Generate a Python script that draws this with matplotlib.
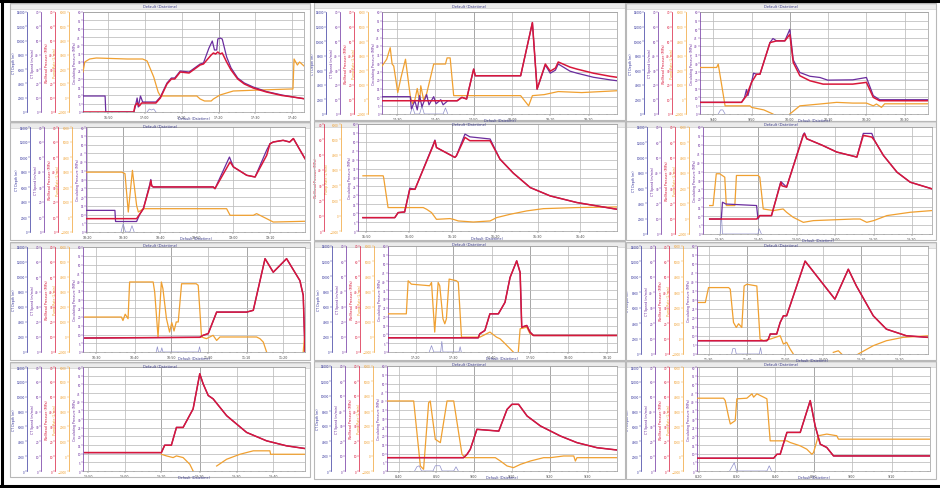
import numpy as np
import matplotlib
matplotlib.use("Agg")
import matplotlib.pyplot as plt
from matplotlib.patches import Rectangle
from matplotlib.lines import Line2D

# ---------------- data (x: % of time window, y: % of axis height) ----------------
RED_1 = [(0,0),(23,0),(23.5,6),(24.5,9),(25.5,6),(26.5,9),(33,9),(35,14),(38,28),(40,33),(41.5,33),(44,40),(48,39),(53,47),(54.5,48),(58,57),(59,59),(60,58),(61,60),(62,58),(63,59),(65,50),(67,42),(70,33),(73,28),(77,24),(83,20),(90,16.5),(95,15),(100,13.3)]
PUR_1 = [(0,16),(10,16),(10.3,0),(23,0),(23.5,4),(24.5,14),(25,5),(26,16),(27,10),(33,10),(35,15),(38,29),(40,34),(41.5,34),(44,41),(48,40),(53,48),(54.5,49),(57,64),(58.5,71),(59.5,62),(60.5,62),(61,73),(62,74),(63,73),(65,55),(67,44),(70,34),(73,29),(77,25),(83,20.5),(90,17),(95,15),(100,13.3)]
ORA_1 = [(0,40),(0.8,50),(3,53),(6,54),(20,53),(27,53),(29,51),(32,35),(34,20),(35,16),(45,16),(51.5,16),(53,13),(55,11),(58,11),(59,13),(62,17),(68,21),(80,22),(94,23),(95,23),(95.5,53),(97,47),(98,50),(100,46)]
LOW_1 = [(29,0),(30,3),(31,2),(32,3),(33,0)]

RED_2 = [(0,13),(32,13),(34,16.3),(36,14.7),(39,44),(39.7,37.5),(59,37.5),(64,89.6),(66,24.4),(69.5,49),(71.6,42),(73.8,45),(75,51),(80,46),(83,44),(90,40),(97,37),(100,36)]
PUR_2 = [(0,17),(12,17),(12.5,5),(14,13),(15,4),(16,18),(17,7),(19,19),(20,9),(22,17),(23,10),(25,14),(26,9),(28,13),(32,13),(34,16.3),(36,14.7),(39,44),(39.7,37.5),(59,37.5),(64,89.6),(66,24.4),(69.5,48),(71.6,40),(73.8,43),(75,49),(80,42),(83,40),(90,36),(97,33.5),(100,32.6)]
ORA_2 = [(0,47),(2,53.7),(3.5,65),(4.3,49),(5,47),(6.7,21),(8,35),(10,53.7),(12,18),(13,10),(14,14),(15,25),(16,12),(16.5,27.7),(17.7,14),(19,20),(22,49),(27,49),(27.7,55),(29,55),(30.5,18),(59,18),(62.4,8),(64,18),(69,19),(75,22),(85,21),(100,22.8)]
LOW_2 = [(12,0),(13,7),(14,0),(16,0),(17,8),(18,0),(26,0),(27,6),(28,0)]

RED_3 = [(0,11.4),(18.2,11.4),(20.4,18),(22.6,31),(24.8,39),(26.3,39),(30.7,70),(33.6,71.7),(37.2,71.7),(39.4,78),(40.9,50.5),(43.8,37.5),(48.2,32.6),(54,29.3),(67,29.3),(73,31),(76,16.3),(78.8,13),(100,13)]
PUR_3 = [(0,11.4),(18.2,11.4),(19.5,16),(20.4,24),(21,18),(22.6,31),(23.5,40),(24.8,39),(26.3,39),(30.7,70),(32,74),(33.6,71.7),(37.2,71.7),(39.4,83),(40.9,53),(43.8,40.7),(48.2,37),(52.6,35.8),(56,33.2),(67,33.5),(73,35.8),(76,18),(78.8,14),(100,14)]
ORA_3 = [(0,45.6),(7.3,45.6),(8,48.9),(11,8),(15,8),(21.9,8),(22.6,6.5),(28,4),(32,0),None,(39.4,0),(43.8,8),(52.6,9.8),(59.9,11.4),(67,10.7),(73,10.7),(76,8),(77.4,9.8),(79.6,6.5),(81,10),(100,10)]
LOW_3 = [(8,0),(9,4),(10,4),(11,0)]

RED_4 = [(0,12.7),(23.1,12.7),(24.7,17.5),(26.2,22.2),(29.2,44.4),(29.6,49),(30,44),(30.7,42.9),(58.1,42.9),(58.9,41.3),(65.8,66.7),(67.3,62),(73.4,54),(77.2,52.4),(82.5,73),(84,84),(85.5,85.7),(90,87.3),(93,85.7),(94.7,89),(100,69.8)]
PUR_4 = [(0,20.6),(13.2,20.6),(13.5,10),(23.1,10),(24.7,17.5),(26.2,22.2),(29.2,46),(29.6,50),(30,44),(30.7,42.9),(58.1,42.9),(58.9,41.3),(65.5,71.4),(67.3,62),(73.4,54),(77.2,52.4),(82.5,78),(84,84),(85.5,85.7),(90,87.3),(93,85.7),(94.7,89),(100,69.8)]
ORA_4 = [(0,57),(16.3,57),(17.8,55.6),(19.3,19),(21.2,58.7),(23.1,25.4),(23.9,19),(26.2,22.2),(27.7,22.2),(64.2,22.2),(65.8,15.9),(76.4,15.9),(77.9,17.5),(82.5,12.7),(85.5,9.5),(100,10.2)]
LOW_4 = [(16,0),(17,8),(18,0),(20,0),(21,6),(22,0)]

RED_5 = [(1.9,12.5),(14.2,12.5),(15.5,17.2),(18,17.8),(20,39),(22,39),(29,79.7),(29.7,84.4),(30.3,78),(37.4,68.8),(38,70.3),(41.3,87.5),(43.2,84.4),(51,84.4),(54.8,67.2),(60,54),(66.5,40.6),(74.2,32.8),(84.5,26.6),(100,20.3)]
PUR_5 = [(1.9,12.5),(14.2,12.5),(15.5,17.2),(18,17.8),(20,40),(22,39),(29,80.5),(29.7,85),(30.3,78),(37.4,68.8),(38,70.3),(41.3,90.6),(43.2,88),(51,86),(54.8,67.2),(60,54),(66.5,40.6),(74.2,32.8),(84.5,26.6),(100,20.3)]
ORA_5 = [(1.9,51.6),(9.7,51.6),(9.9,50),(11.6,21.9),(25.2,21.9),(26.5,20.3),(28.4,17.2),(30.3,10.9),(35.5,11.6),(36.8,10.9),(38.7,9.4),(44.5,8.4),(51,9.4),(53.5,12.5),(58.7,15.6),(65.2,18.8),(71.6,20.9),(84.5,21.9),(100,22.5)]
LOW_5 = []

RED_6 = [(2.9,14),(23.4,14),(24.8,17.2),(29.9,17.2),(33.6,45.3),(34,48.4),(34.5,45),(36.5,43.8),(43.8,92.2),(44.3,93.8),(45.3,89),(52,83),(58.4,76.6),(67.2,71.9),(70,92.2),(73.7,90.6),(75,87),(78.8,73.4),(84.7,57.8),(90.5,48.4),(100,42.2)]
PUR_6 = [(2.9,14),(8,14),(8.5,29.7),(10,28),(23.4,26.6),(24,14),(24.8,17.2),(29.9,17.2),(33.6,46),(34,49),(36.5,43.8),(43.8,93),(44.3,94.5),(45.3,89),(52,83),(58.4,76.6),(67.2,71.9),(70,94),(73.7,94),(75,87),(78.8,73.4),(84.7,57.8),(90.5,48.4),(100,42.2)]
ORA_6 = [(2.9,26.6),(4.4,26.6),(5.8,56.3),(7.3,56.3),(9.5,53.1),(10.2,26.6),(13.9,26.6),(14.6,54.7),(24.1,54.7),(24.8,53.1),(26.3,23.4),(30.7,21.9),(35,23.4),(36.5,20.3),(39.4,15.6),(43.8,10.9),(48.2,12.5),(65.7,14),(68.6,14),(71.5,10.9),(74.5,12.5),(80.3,17.2),(90.5,20.3),(100,21.9)]
LOW_6 = [(7.5,0),(8,20),(8.5,0),(24,0),(24.5,5),(25.5,0)]

RED_7 = [(0.8,13.3),(52.6,14),(54.1,15.9),(56.4,17.5),(60.2,38),(73.7,38),(76.7,39.7),(82,88.9),(85.7,76),(91.7,88.9),(97.7,68),(99.2,54),(100,0)]
PUR_7 = RED_7
ORA_7 = [(0.8,33.3),(17.3,33.3),(18,30),(19,36),(20.3,31.7),(21,66.7),(31.6,66.7),(32.3,57),(33.8,14.3),(35.3,66.7),(36,60.3),(37.6,31.7),(39,19),(40,28),(41,20),(42,28.6),(42.9,28.6),(44.4,65),(51,65),(51.9,63.5),(53.4,14.3),(55.6,12.7),(58.6,15.9),(60.2,11),(61.7,14.3),(78.2,14.3),(79.7,12.7),(81.2,9.5),(82.7,0),None,(99.2,0),(100,19)]
LOW_7 = [(33,0),(33.5,5),(34,0),(35,0),(35.5,4),(36,0),(52,0),(52.5,5),(53,0)]

RED_8 = [(0,13.4),(39.4,13.4),(40.1,17.2),(42.3,20.3),(44.5,36),(48.2,36),(51.1,46.9),(53.3,70.3),(56.2,86),(57.7,75),(58.4,23.4),(60.6,25),(62,18.8),(63.5,15.6),(100,15.6)]
PUR_8 = RED_8
ORA_8 = [(0,36),(8,36),(8.8,67.2),(10.2,64),(18.2,62.5),(19,65.6),(20.4,18.8),(21.9,65.6),(22.6,62.5),(24,31.3),(24.8,26.6),(25.5,31.3),(26.7,68.8),(29.9,67.2),(30.7,65.6),(32.1,14),(40.1,14),(41.6,15.6),(44.5,18.8),(47.4,14),(48.9,12.5),(50.4,9.4),(53.3,3.1),(54.7,0),None,(56.9,0),(57.7,21.9),(60.6,23.4),(61.3,20.3),(62,17.2),(63.5,15.6),(100,15.6)]
LOW_8 = [(18,0),(19,6),(20,0),(23,0),(23.5,10),(24,0),(31,0),(31.5,5),(32,0)]

RED_9 = [(0.7,12.3),(30.2,12.3),(30.9,13.8),(31.7,18.5),(34.5,18.5),(36,29.2),(37.4,35.4),(38.8,35.4),(46.8,86),(59.7,50.8),(65.5,78.5),(69,63),(69.8,60),(76.3,35.4),(82,23),(90.6,16.9),(100,15.4)]
PUR_9 = RED_9
ORA_9 = [(0.7,47.7),(3.6,47.7),(5,61.5),(13.7,61.5),(14.4,60),(15.8,29.2),(17,24.6),(18,28),(19.4,24.6),(20.4,63),(21.6,64.6),(25.9,63),(27.3,13.8),(28.8,12.3),(32,14),(36,16.9),(37.4,9.2),(38.8,10.8),(40.3,4.6),(41.7,0),None,(59,1.5),(61.2,3),(62.6,0),None,(69.8,0),(76.3,7.7),(82,12.3),(89.2,15.4),(100,16.9)]
LOW_9 = [(15,0),(15.5,5),(16.5,5),(17,0),(27,0),(27.5,6),(28,0)]

RED_10 = [(0.8,17.7),(35.3,17.7),(36.8,24.8),(39.8,24.8),(42.1,41.9),(45.1,41.9),(49.6,59.7),(52.6,93.5),(54.1,83.9),(56.4,72.6),(58.6,69.4),(64.7,53.2),(73.7,37.1),(82.7,29),(91.7,24.2),(100,21.6)]
PUR_10 = RED_10
ORA_10 = [(35.3,16.1),(37.6,14.5),(40.6,12.9),(42.1,14.5),(45.1,12.9),(48.1,6.5),(49.6,0),None,(60.2,4.8),(64.7,11.3),(70.7,16.1),(76.7,19.4),(84.2,19.4),(84.5,16.1),(100,16.1)]
LOW_10 = []

RED_11 = [(0,12.7),(33.3,12.7),(34.8,15.9),(36.2,20.6),(39.1,39.7),(48.6,38),(52.2,58.7),(54.3,63.5),(57.2,63.5),(60.9,52.4),(66.7,42.9),(75.4,33.3),(82.6,27),(91.3,22.2),(100,20)]
PUR_11 = RED_11
ORA_11 = [(0,66.7),(11.6,66.7),(14.5,4.8),(15.9,1.6),(18.1,65),(18.8,66.7),(21,30.2),(23.2,27),(26.1,66.7),(29,66.7),(32.6,15.9),(34,12.7),(47.1,12.7),(49.3,9.5),(52.2,4.8),(55,3.2),(58,6.3),(62.3,9.5),(68.1,12.7),(71,12.7),(76.8,14.3),(81.2,14.3),(81.9,9.5),(82.6,12.7),(100,12.7)]
LOW_11 = [(12,0),(13,4),(14,5),(15,0),(20,0),(21,5),(23,5),(24,0),(29,0),(30,4),(31,0)]

RED_12 = [(0,12.3),(32.9,12.3),(34.3,16.1),(35.7,16.1),(38.6,37.1),(44.3,37.1),(48.6,67.7),(50.7,43.5),(52.9,25.8),(55.7,22.6),(58.6,14.5),(100,14.5)]
PUR_12 = RED_12
ORA_12 = [(0,70),(11.4,70),(12.1,67.7),(13.6,51.6),(14.3,45.2),(16.4,48.4),(17.1,69.4),(21.4,70),(23.6,74.2),(24.3,71),(25.7,74.2),(28.6,71),(30,69.4),(31.4,29),(38.6,29),(40,27.4),(44.3,24.2),(47.1,21),(49.3,16.1),(50,17.7),(52.1,33.9),(55.7,35.5),(60,33.9),(60.7,30.6),(100,30.6)]
LOW_12 = [(14,0),(16,8),(17,0),(30,0),(31,5),(32,0)]

# x tick positions (% of window) and time labels
XT_1 = [11.4, 28, 44.7, 61.4, 78, 94.7]
XT_2 = [6.4, 22.7, 39, 55.3, 71.6, 87.9]
XT_3 = [5.8, 22.6, 39.4, 56.2, 73, 89.8]
XT_4 = [0.5, 17, 33.8, 50.5, 67.3, 84]
XT_5 = [3.2, 19.7, 36.4, 52.9, 69.4, 85.8]
XT_6 = [7.3, 24.1, 40.9, 57.7, 74.5, 91.2]
XT_7 = [6, 23.3, 39.8, 56.4, 73.7, 90.2]
XT_8 = [12.1, 28.5, 45.3, 62, 78.8, 95.6]
XT_9 = [5, 21.6, 38.1, 54.7, 71.2, 87.8]
XT_10 = [2.3, 18.8, 35.3, 52.6, 69.2, 85.7]
XT_11 = [5, 21.4, 37.7, 54.3, 70.7, 87.2]
XT_12 = [0.7, 17.1, 33.6, 50, 66.4, 83.6]
XL_1 = ["16:50", "17:00", "17:10", "17:20", "17:30", "17:40"]
XL_2 = ["17:30", "17:40", "17:50", "18:00", "18:10", "18:20"]
XL_3 = ["9:40", "9:50", "10:00", "10:10", "10:20", "10:30"]
XL_4 = ["18:20", "18:30", "18:40", "18:50", "19:00", "19:10"]
XL_5 = ["15:50", "16:00", "16:10", "16:20", "16:30", "16:40"]
XL_6 = ["12:30", "12:40", "12:50", "13:00", "13:10", "13:20"]
XL_7 = ["10:30", "10:40", "10:50", "11:00", "11:10", "11:20"]
XL_8 = ["17:20", "17:30", "17:40", "17:50", "18:00", "18:10"]
XL_9 = ["11:30", "11:40", "11:50", "12:00", "12:10", "12:20"]
XL_10 = ["12:50", "13:00", "13:10", "13:20", "13:30", "13:40"]
XL_11 = ["8:40", "8:50", "9:00", "9:10", "9:20", "9:30"]
XL_12 = ["8:20", "8:30", "8:40", "8:50", "9:00", "9:10"]

# darker event lines (x %)
EV_1 = [61.4]
EV_2 = [39]
EV_3 = [39.4]
EV_4 = [17]
EV_5 = [36.4, 52.9]
EV_6 = [24.1]
EV_7 = [39.8, 73.7]
EV_8 = [28.5, 62]
EV_9 = [21.6, 71.2]
EV_10 = [35.3, 52.6]
EV_11 = [37.7, 70.7]
EV_12 = [17.1, 50]

# left axis scales
MAIN_TICKS = ["0", "5", "10", "15", "20", "25", "30", "35", "40", "45", "50", "55", "60"]
ORANGE_TICKS = [-1000, 0, 1000, 2000, 3000, 4000, 5000, 6000]
RED_TICKS = [0, 10, 20, 30, 40, 50, 60, 70]
PURPLE_TICKS = [0, 10, 20, 30, 40, 50, 60, 70]
BLUE_TICKS = [0, 2000, 4000, 6000, 8000, 10000, 12000, 14000]

C_RED = "#d8173a"
C_PUR = "#6b2d9e"
C_ORA = "#f0a030"
C_LOW = "#8f8fca"
C_BLUE = "#34349c"

# ---------------- layout (pixels) ----------------
W, H = 940, 489
PLOTS = [(83, 13, 304, 113), (382, 13, 617, 115), (700, 13, 928, 115),
         (86, 128, 305, 233), (358, 125, 617, 232), (703, 128, 932, 235),
         (83, 248, 305, 353), (388, 247, 617, 353), (697, 247, 928, 355),
         (83, 368, 305, 472), (387, 367, 617, 472), (697, 368, 930, 472)]
FRAMES = [(10, 4, 310, 122), (314, 3, 625, 121), (626, 4, 936, 122),
          (10, 123, 310, 241), (314, 122, 625, 241), (626, 122, 936, 241),
          (10, 243, 310, 361), (314, 242, 625, 361), (626, 243, 936, 361),
          (10, 363, 310, 478), (314, 362, 625, 480), (626, 362, 936, 480)]

PANELS = [
    (RED_1, PUR_1, ORA_1, LOW_1, XT_1, XL_1, EV_1),
    (RED_2, PUR_2, ORA_2, LOW_2, XT_2, XL_2, EV_2),
    (RED_3, PUR_3, ORA_3, LOW_3, XT_3, XL_3, EV_3),
    (RED_4, PUR_4, ORA_4, LOW_4, XT_4, XL_4, EV_4),
    (RED_5, PUR_5, ORA_5, LOW_5, XT_5, XL_5, EV_5),
    (RED_6, PUR_6, ORA_6, LOW_6, XT_6, XL_6, EV_6),
    (RED_7, PUR_7, ORA_7, LOW_7, XT_7, XL_7, EV_7),
    (RED_8, PUR_8, ORA_8, LOW_8, XT_8, XL_8, EV_8),
    (RED_9, PUR_9, ORA_9, LOW_9, XT_9, XL_9, EV_9),
    (RED_10, PUR_10, ORA_10, LOW_10, XT_10, XL_10, EV_10),
    (RED_11, PUR_11, ORA_11, LOW_11, XT_11, XL_11, EV_11),
    (RED_12, PUR_12, ORA_12, LOW_12, XT_12, XL_12, EV_12),
]


def xy(pts):
    xs = np.array([np.nan if p is None else p[0] for p in pts], dtype=float)
    ys = np.array([np.nan if p is None else p[1] for p in pts], dtype=float)
    return xs, ys


def rect(x0, y0, x1, y1):
    return [x0 / W, 1 - y1 / H, (x1 - x0) / W, (y1 - y0) / H]


def left_axis(ax, off_px, color, ticks, label):
    t = ax.twinx()
    t.set_ylim(ticks[0], ticks[-1])
    for s in ("right", "top", "bottom"):
        t.spines[s].set_visible(False)
    sp = t.spines["left"]
    sp.set_visible(True)
    sp.set_position(("outward", off_px * 72 / 100))
    sp.set_color(color)
    sp.set_linewidth(0.5)
    t.yaxis.set_ticks_position("left")
    t.yaxis.set_label_position("left")
    t.set_yticks(ticks)
    t.tick_params(axis="y", labelsize=2.0, length=1.2, width=0.3, pad=0.4, colors=color)
    t.set_ylabel(label, fontsize=2.3, color=color, labelpad=0.3)
    return t


fig = plt.figure(figsize=(W / 100, H / 100), dpi=100)
fig.patch.set_facecolor("white")

for i, (panel, prect, frect) in enumerate(zip(PANELS, PLOTS, FRAMES)):
    red, pur, ora, low, xt, xl, ev = panel
    fx0, fy0, fx1, fy1 = frect
    fig.add_artist(Rectangle((fx0 / W, 1 - fy1 / H), (fx1 - fx0) / W, (fy1 - fy0) / H,
                             transform=fig.transFigure, fill=False, ec="#b8b8b8", lw=0.8))
    fig.add_artist(Rectangle((fx0 / W, 1 - (fy0 + 6) / H), (fx1 - fx0) / W, 5 / H,
                             transform=fig.transFigure, fc="#ebebeb", ec="#c8c8c8", lw=0.4, zorder=-1))
    px0, py0, px1, py1 = prect
    ax = fig.add_axes(rect(*prect))
    ax.set_xlim(0, 100)
    ax.set_ylim(0, 100)
    ax.set_yticks(np.linspace(0, 100, 13))
    ax.set_yticklabels(MAIN_TICKS)
    ax.set_xticks(xt)
    ax.set_xticklabels(xl)
    ax.set_xticks(np.arange(0, 101, 3.3), minor=True)
    ax.tick_params(axis="y", labelsize=2.0, length=1.2, width=0.3, pad=0.4, colors=C_PUR)
    ax.tick_params(axis="x", labelsize=2.3, length=1.2, width=0.3, pad=0.8, colors="#444444")
    ax.tick_params(axis="x", which="minor", length=0.8, width=0.3, colors="#666666")
    ax.grid(True, color="#bcbcbc", lw=0.55)
    for s in ax.spines.values():
        s.set_color("#9a9a9a")
        s.set_linewidth(0.5)
    ax.spines["left"].set_color(C_PUR)
    ax.set_ylabel("Circulating Pressure (MPa)", fontsize=2.3, color=C_PUR, labelpad=0.3)
    for e in ev:
        ax.axvline(e, color="#4a4a4a", lw=0.6, zorder=1)

    if i == 4:
        left_axis(ax, 17, C_ORA, ORANGE_TICKS, "Pump Rate (L/min)")
        left_axis(ax, 34, C_RED, RED_TICKS, "Wellhead Pressure (MPa)")
    else:
        left_axis(ax, 14, C_ORA, ORANGE_TICKS, "Pump Rate (L/min)")
        left_axis(ax, 28, C_RED, RED_TICKS, "Wellhead Pressure (MPa)")
        left_axis(ax, 42, C_PUR, PURPLE_TICKS, "CT Speed (m/min)")
        left_axis(ax, 56, C_BLUE, BLUE_TICKS, "CT Depth (m)")

    if low:
        lx, ly = xy(low)
        ax.plot(lx, ly, color=C_LOW, lw=0.5, zorder=2)
    ox, oy = xy(ora)
    ax.plot(ox, oy, color=C_ORA, lw=0.9, zorder=3)
    ux, uy = xy(pur)
    ax.plot(ux, uy, color=C_PUR, lw=0.9, zorder=4)
    rx, ry = xy(red)
    ax.plot(rx, ry, color=C_RED, lw=1.1, zorder=5)

    cx = (fx0 + fx1) / 2 / W
    fig.text(cx, 1 - (fy0 + 3.5) / H, "Default (Datetime)", fontsize=2.6,
             color="#3a3a8a", ha="center", va="center")
    fig.text((px0 + px1) / 2 / W, 1 - (py1 + 6.5) / H, "Default (Datetime)", fontsize=2.4,
             color="#3a3a8a", ha="center", va="center")

# outer black border (top, left, bottom)
for xs, ys in (([0.5 / W, 939 / W], [1 - 1.5 / H, 1 - 1.5 / H]),
               ([1.5 / W, 1.5 / W], [1 - 1 / H, 1 - 487 / H]),
               ([0.5 / W, 939 / W], [1 - 486.5 / H, 1 - 486.5 / H])):
    fig.add_artist(Line2D(xs, ys, transform=fig.transFigure, color="black", lw=2.2))

fig.savefig("out.png", dpi=100)
